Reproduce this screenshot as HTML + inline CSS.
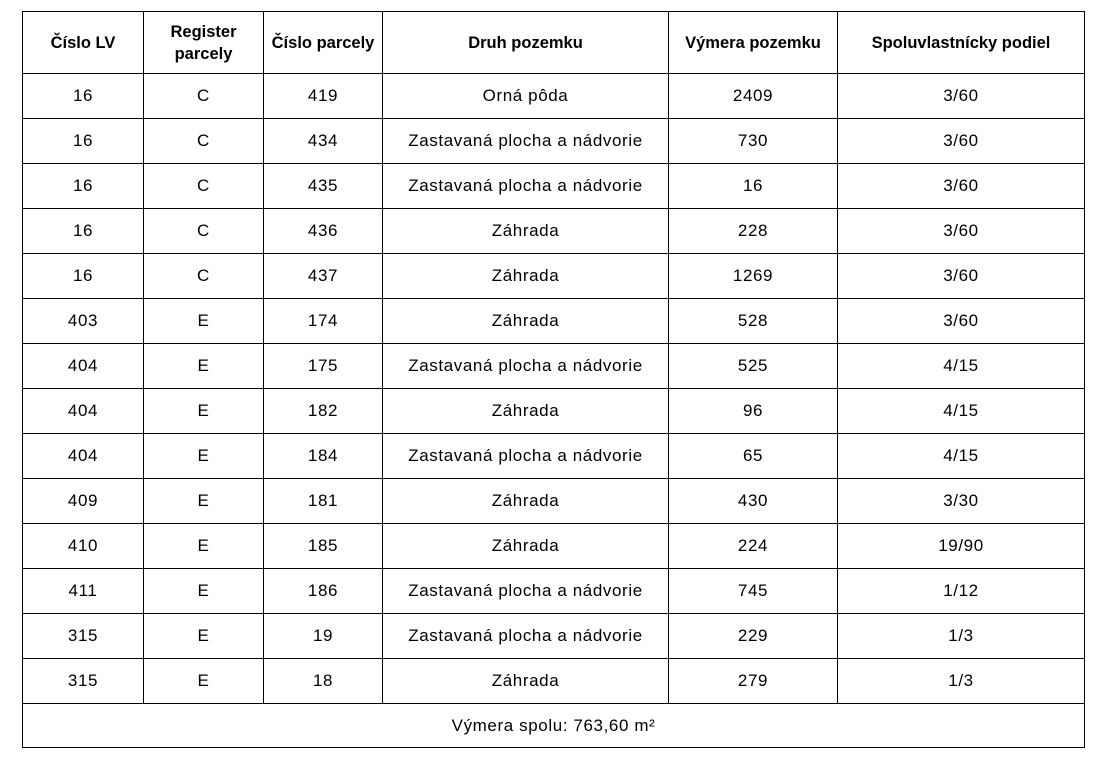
<!DOCTYPE html>
<html><head><meta charset="utf-8"><style>
html,body{margin:0;padding:0;background:#fff;width:1104px;height:769px;overflow:hidden}
table{position:absolute;left:22px;top:11px;border-collapse:collapse;font-family:"Liberation Sans",sans-serif;font-size:17px;color:#000;table-layout:fixed}
td,th{border:1.5px solid #000;text-align:center;padding:0;height:44px}
td{letter-spacing:0.6px}
th{font-weight:bold;height:61px;line-height:22px;font-size:16.5px}
tr.f td{height:43px}
</style></head><body>
<table>
<colgroup><col style="width:121px"><col style="width:120px"><col style="width:119px"><col style="width:286px"><col style="width:169px"><col style="width:247px"></colgroup>
<tr><th>Číslo LV</th><th>Register<br>parcely</th><th>Číslo parcely</th><th>Druh pozemku</th><th>Výmera pozemku</th><th>Spoluvlastnícky podiel</th></tr>
<tr><td>16</td><td>C</td><td>419</td><td>Orná pôda</td><td>2409</td><td>3/60</td></tr>
<tr><td>16</td><td>C</td><td>434</td><td>Zastavaná plocha a nádvorie</td><td>730</td><td>3/60</td></tr>
<tr><td>16</td><td>C</td><td>435</td><td>Zastavaná plocha a nádvorie</td><td>16</td><td>3/60</td></tr>
<tr><td>16</td><td>C</td><td>436</td><td>Záhrada</td><td>228</td><td>3/60</td></tr>
<tr><td>16</td><td>C</td><td>437</td><td>Záhrada</td><td>1269</td><td>3/60</td></tr>
<tr><td>403</td><td>E</td><td>174</td><td>Záhrada</td><td>528</td><td>3/60</td></tr>
<tr><td>404</td><td>E</td><td>175</td><td>Zastavaná plocha a nádvorie</td><td>525</td><td>4/15</td></tr>
<tr><td>404</td><td>E</td><td>182</td><td>Záhrada</td><td>96</td><td>4/15</td></tr>
<tr><td>404</td><td>E</td><td>184</td><td>Zastavaná plocha a nádvorie</td><td>65</td><td>4/15</td></tr>
<tr><td>409</td><td>E</td><td>181</td><td>Záhrada</td><td>430</td><td>3/30</td></tr>
<tr><td>410</td><td>E</td><td>185</td><td>Záhrada</td><td>224</td><td>19/90</td></tr>
<tr><td>411</td><td>E</td><td>186</td><td>Zastavaná plocha a nádvorie</td><td>745</td><td>1/12</td></tr>
<tr><td>315</td><td>E</td><td>19</td><td>Zastavaná plocha a nádvorie</td><td>229</td><td>1/3</td></tr>
<tr><td>315</td><td>E</td><td>18</td><td>Záhrada</td><td>279</td><td>1/3</td></tr>
<tr class="f"><td colspan="6">Výmera spolu: 763,60 m²</td></tr>
</table>
</body></html>
